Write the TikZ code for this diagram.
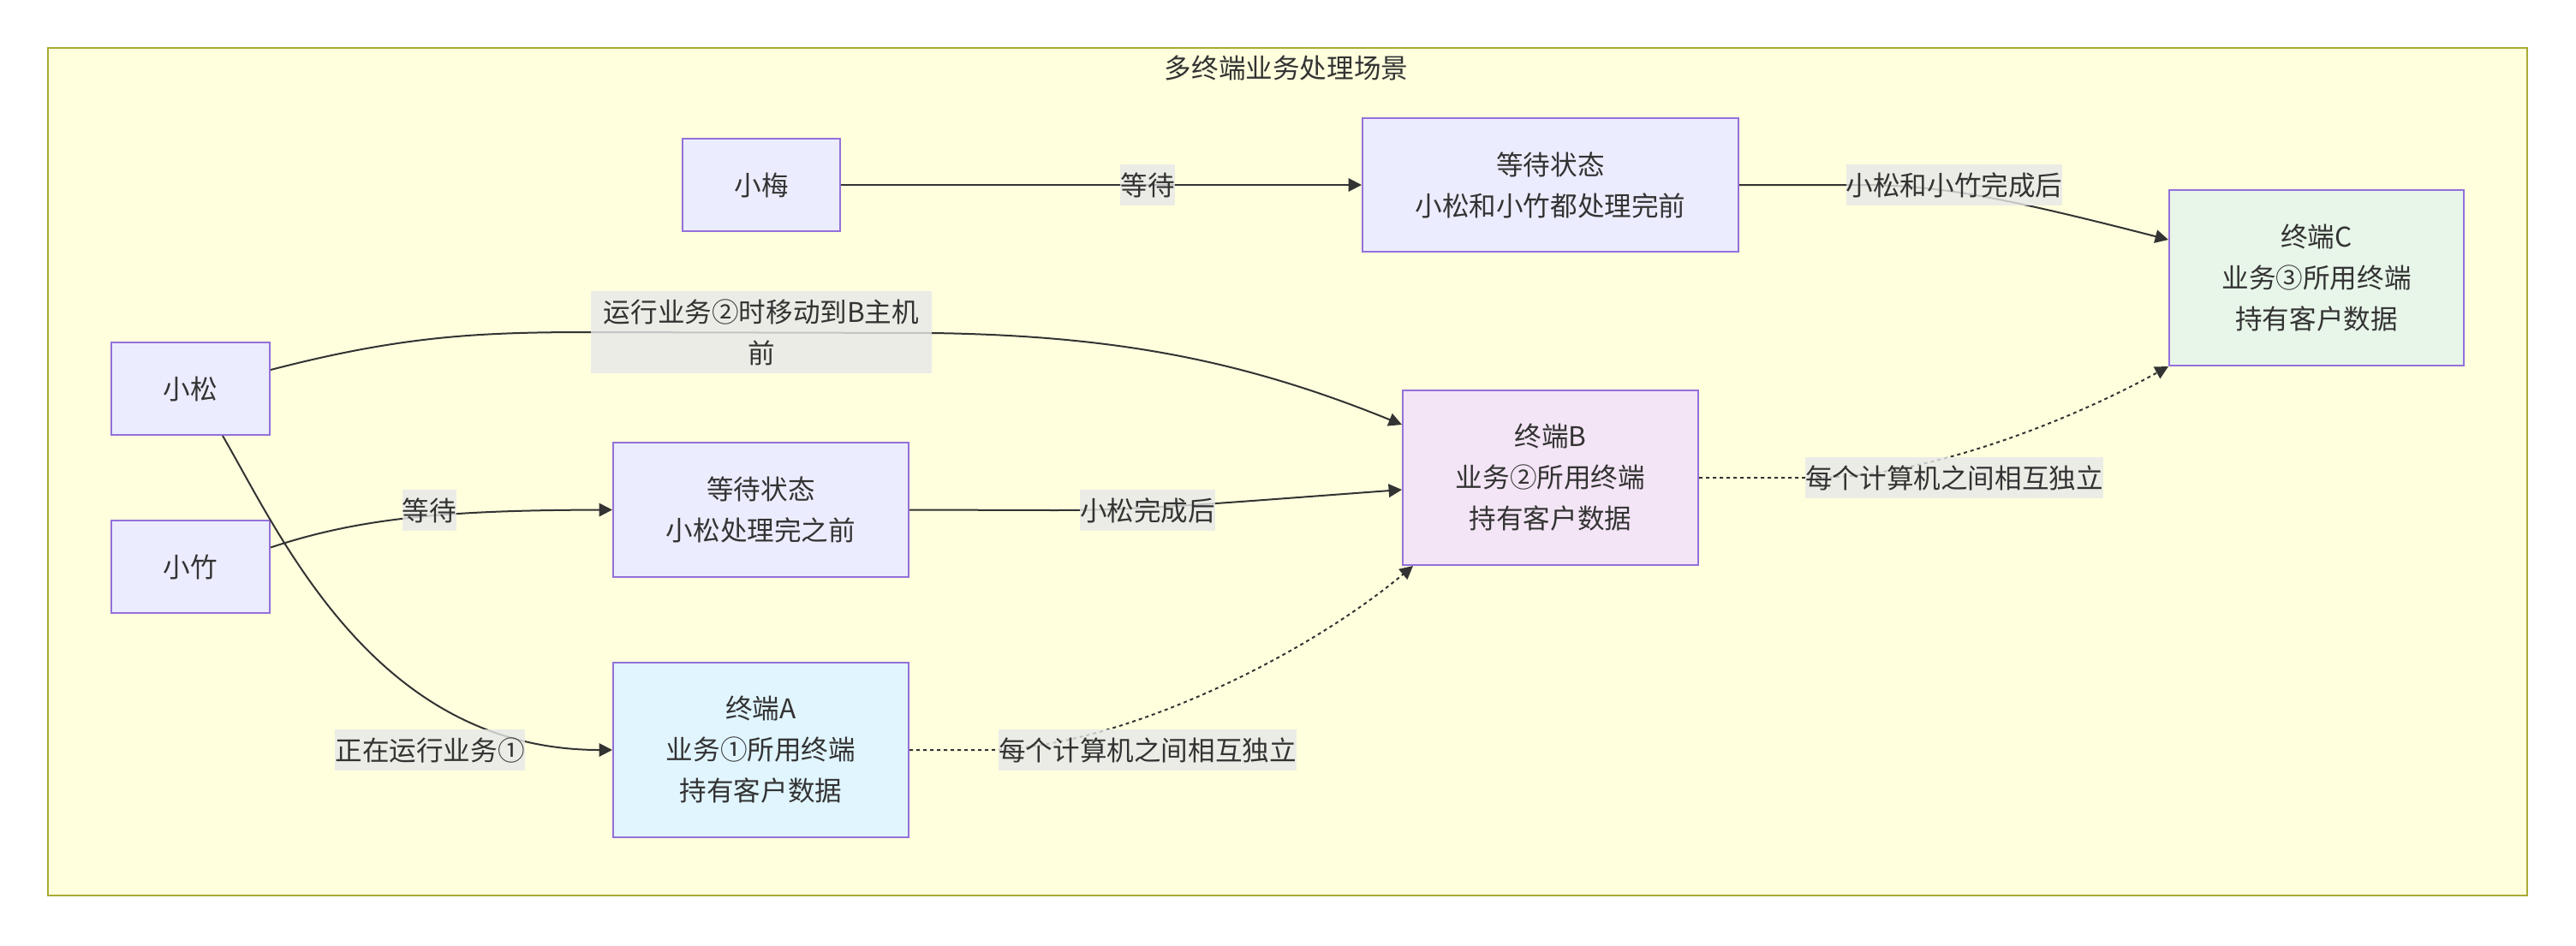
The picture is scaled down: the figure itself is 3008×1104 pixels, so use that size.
\documentclass[tikz,border=0pt]{standalone}
\usepackage{fontspec}
\setmainfont{Noto Sans CJK SC}
\usetikzlibrary{arrows.meta}
\definecolor{framefill}{HTML}{FFFFDE}
\definecolor{framedraw}{HTML}{AAAA33}
\definecolor{nodefill}{HTML}{ECECFF}
\definecolor{nodedraw}{HTML}{9370DB}
\definecolor{fillA}{HTML}{E1F5FE}
\definecolor{fillB}{HTML}{F3E5F5}
\definecolor{fillC}{HTML}{E8F5E9}
\definecolor{ink}{HTML}{333333}
\definecolor{lblbg}{HTML}{E8E8E8}
\begin{document}
\begin{tikzpicture}[x=0.5pt,y=-0.5pt,
  every node/.style={font=\fontsize{15.8pt}{24pt}\selectfont, text=ink},
  box/.style={draw=nodedraw, fill=nodefill, line width=1pt, align=center, inner sep=0pt},
  lbl/.style={fill=lblbg, fill opacity=0.8, text opacity=1, inner sep=0pt, minimum height=24pt, align=center},
  conn/.style={draw=ink, line width=1pt, -{Triangle[length=7.7pt,width=7.7pt]}},
  dconn/.style={conn, dash pattern=on 2pt off 2pt}]
\useasboundingbox (0,0) rectangle (3008,1104);
\fill[white] (0,0) rectangle (3008,1104);
% frame
\draw[draw=framedraw, fill=framefill, line width=1pt] (55.5,56) rectangle (2950.5,1046);
\node (title) at (1502,79) {多终端业务处理场景};
% nodes
\node[box, minimum width=92pt, minimum height=54pt] (mei) at (889,216) {小梅};
\node[box, minimum width=219.5pt, minimum height=78pt] (wait1) at (1810.5,216) {等待状态\\小松和小竹都处理完前};
\node[box, fill=fillC, minimum width=172pt, minimum height=102.5pt] (C) at (2705,324.5) {终端C\\业务③所用终端\\持有客户数据};
\node[box, minimum width=92.5pt, minimum height=54pt] (song) at (222.5,454) {小松};
\node[box, fill=fillB, minimum width=172.5pt, minimum height=102pt] (B) at (1810.5,558) {终端B\\业务②所用终端\\持有客户数据};
\node[box, minimum width=172.5pt, minimum height=78.5pt] (wait2) at (888.5,595.5) {等待状态\\小松处理完之前};
\node[box, minimum width=92.5pt, minimum height=54pt] (zhu) at (222.5,662) {小竹};
\node[box, fill=fillA, minimum width=172.5pt, minimum height=102pt] (A) at (888.5,876) {终端A\\业务①所用终端\\持有客户数据};
% connectors
\draw[conn] (mei.east) -- (wait1.west);
\draw[conn] (wait1.east) -- (2170,216) .. controls (2260,216) and (2330,228) .. ([yshift=22.25pt]C.west);
\draw[conn] ([yshift=11pt]song.east) .. controls (470,392) and (560,388) .. (690,388) -- (1088,389) .. controls (1300,392) and (1450,420) .. ([yshift=31pt]B.west);
\draw[conn] ([xshift=18.75pt]song.south) .. controls (330,630) and (440,876) .. (A.west);
\draw[conn] ([yshift=11.25pt]zhu.east) .. controls (420,605) and (520,596) .. (wait2.west);
\draw[conn] (wait2.east) -- (1230,596) .. controls (1330,596) and (1420,588) .. ([yshift=-7pt]B.west);
\draw[dconn] (A.east) -- (1150,876) .. controls (1300,876) and (1520,770) .. ([xshift=6.5pt]B.south west);
\draw[dconn] (B.east) -- (2120,558) .. controls (2250,558) and (2420,490) .. (C.south west);
% labels
\node[lbl] (l1) at (1340,216) {等待};
\node[lbl] (l2) at (2282,216) {小松和小竹完成后};
\node[lbl, text width=199pt, minimum height=48pt] (l3) at (889,388) {运行业务②时移动到B主机\\前};
\node[lbl] (l4) at (501.5,596) {等待};
\node[lbl] (l5) at (1340,596) {小松完成后};
\node[lbl] (l6) at (502,876) {正在运行业务①};
\node[lbl] (l7) at (1340,876) {每个计算机之间相互独立};
\node[lbl] (l8) at (2282,558) {每个计算机之间相互独立};
\end{tikzpicture}
\end{document}
